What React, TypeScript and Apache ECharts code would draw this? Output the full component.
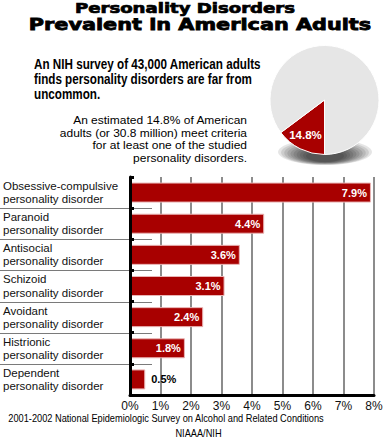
import React, { useEffect, useRef } from 'react';
import * as echarts from 'echarts';

const titleLines = ['Personality Disorders', 'Prevalent in American Adults'];
const introLines = [
  'An NIH survey of 43,000 American adults',
  'finds personality disorders are far from',
  'uncommon.',
];
const detailLines = [
  'An estimated 14.8% of American',
  'adults (or 30.8 million) meet criteria',
  'for at least one of the studied',
  'personality disorders.',
];
const sourceLine = '2001-2002 National Epidemiologic Survey on Alcohol and Related Conditions';
const creditLine = 'NIAAA/NIH';

const categories = [
  'Obsessive-compulsive\npersonality disorder',
  'Paranoid\npersonality disorder',
  'Antisocial\npersonality disorder',
  'Schizoid\npersonality disorder',
  'Avoidant\npersonality disorder',
  'Histrionic\npersonality disorder',
  'Dependent\npersonality disorder',
];
const prevalence = [7.9, 4.4, 3.6, 3.1, 2.4, 1.8, 0.5];

const axisMin = 0;
const axisMax = 8;
const axisStep = 1;

const pieNames = ['At least one personality disorder', 'No personality disorder'];
const pieValues = [14.8, 85.2];

const RED = '#A80000';
const GRAY = '#E6E6E6';
const FONT = 'Liberation Sans';

export default function App() {
  const ref = useRef<HTMLDivElement>(null);

  useEffect(() => {
    if (!ref.current) return;
    const chart = echarts.init(ref.current, undefined, { renderer: 'svg' });

    const txt = (o: any) => ({
      type: 'text',
      silent: true,
      ...o,
      style: {
        fill: '#000',
        fontFamily: FONT,
        ...o.style,
        textAlign: o.style.align,
        textVerticalAlign: o.style.verticalAlign,
      },
    });

    const barData = prevalence.map((v) =>
      v < 1
        ? { value: v, label: { position: 'right', color: '#000', distance: 6 } }
        : { value: v }
    );

    const separatorData = categories.slice(1).map((_, i) => [0, i + 1]);

    // soft drop shadow under the pie, built from stacked translucent ellipses
    const shadowLayers = 10;
    const shadowEllipses = Array.from({ length: shadowLayers }, (_, i) => {
      const t = i / (shadowLayers - 1);
      return {
        type: 'ellipse',
        silent: true,
        z: 0,
        shape: { cx: 325, cy: 152 + 4 * t, rx: 47 - 28 * t, ry: 13 - 7 * t },
        style: { fill: 'rgba(0,0,0,0.1)' },
      };
    });

    const option: any = {
      animation: false,
      backgroundColor: '#fff',
      grid: { left: 128, right: 12, top: 177, bottom: 49 },
      xAxis: {
        type: 'value',
        min: axisMin,
        max: axisMax,
        interval: axisStep,
        axisLine: { show: true, lineStyle: { color: '#000', width: 3 } },
        axisTick: { show: false },
        splitLine: { show: true, lineStyle: { color: '#666', width: 1.5 } },
        axisLabel: {
          formatter: '{value}%',
          color: '#111',
          fontFamily: FONT,
          fontSize: 12,
          margin: 5,
        },
      },
      yAxis: {
        type: 'category',
        inverse: true,
        data: categories,
        z: 5,
        axisLine: { show: true, lineStyle: { color: '#000', width: 3 } },
        axisTick: { show: true, inside: true, length: 4, lineStyle: { color: '#000', width: 3 } },
        axisLabel: {
          align: 'left',
          margin: 127,
          color: '#111',
          fontFamily: FONT,
          fontSize: 11.5,
          lineHeight: 13.3,
        },
      },
      series: [
        {
          type: 'custom',
          silent: true,
          z: 1,
          encode: { x: 0, y: 1 },
          data: separatorData,
          renderItem: (params: any, api: any) => {
            const c = api.coord([0, api.value(1)]);
            const band = api.size([0, 1])[1];
            const y = Math.round(c[1] - band / 2) + 0.5;
            return {
              type: 'line',
              shape: { x1: 0, y1: y, x2: params.coordSys.x + 22, y2: y },
              style: { stroke: '#7a7a7a', lineWidth: 1 },
            };
          },
        },
        {
          type: 'bar',
          barWidth: 20,
          z: 3,
          silent: true,
          data: barData,
          itemStyle: { color: RED, borderColor: '#E9B4B4', borderWidth: 1 },
          label: {
            show: true,
            position: 'insideRight',
            distance: 4,
            formatter: '{c}%',
            color: '#fff',
            fontFamily: FONT,
            fontWeight: 'bold',
            fontSize: 11,
          },
        },
        {
          type: 'pie',
          silent: true,
          z: 2,
          center: [324.5, 100],
          radius: 54.5,
          startAngle: 270,
          clockwise: true,
          labelLine: { show: false },
          itemStyle: { borderColor: '#fff', borderWidth: 1 },
          data: [
            {
              value: pieValues[0],
              name: pieNames[0],
              itemStyle: { color: RED },
              label: {
                show: true,
                position: 'inside',
                formatter: '{v|{c}%}',
                padding: [16, 11, 0, 0],
                rich: {
                  v: {
                    color: '#fff',
                    fontFamily: FONT,
                    fontWeight: 'bold',
                    fontSize: 11.5,
                  },
                },
              },
            },
            {
              value: pieValues[1],
              name: pieNames[1],
              itemStyle: { color: GRAY },
              label: { show: false },
            },
          ],
        },
      ],
      graphic: [
        ...shadowEllipses,
        txt({
          x: 185,
          y: 8,
          scaleX: 1.34,
          style: {
            text: titleLines[0],
            fontFamily: 'DejaVu Sans',
            fontWeight: 'bold',
            fontSize: 13.5,
            stroke: '#000',
            lineWidth: 0.7,
            align: 'center',
            verticalAlign: 'middle',
          },
        }),
        txt({
          x: 200,
          y: 24,
          scaleX: 1.3,
          style: {
            text: titleLines[1],
            fontFamily: 'DejaVu Sans',
            fontWeight: 'bold',
            fontSize: 16,
            stroke: '#000',
            lineWidth: 0.8,
            align: 'center',
            verticalAlign: 'middle',
          },
        }),
        txt({
          x: 34,
          y: 56.8,
          scaleX: 0.835,
          style: {
            text: introLines.join('\n'),
            fontWeight: 'bold',
            fontSize: 14,
            lineHeight: 15,
            align: 'left',
            verticalAlign: 'top',
          },
        }),
        txt({
          x: 247,
          y: 113.8,
          scaleX: 1.09,
          style: {
            text: detailLines.join('\n'),
            fontSize: 11,
            lineHeight: 12.6,
            align: 'right',
            verticalAlign: 'top',
          },
        }),
        txt({
          x: 166,
          y: 418.7,
          scaleX: 0.88,
          style: {
            text: sourceLine,
            fontSize: 10.5,
            align: 'center',
            verticalAlign: 'middle',
          },
        }),
        txt({
          x: 198.5,
          y: 433,
          scaleX: 0.88,
          style: {
            text: creditLine,
            fontSize: 10.5,
            align: 'center',
            verticalAlign: 'middle',
          },
        }),
      ],
    };

    chart.setOption(option);
    return () => chart.dispose();
  }, []);

  return (
    <div
      ref={ref}
      style={{ position: 'fixed', left: 0, top: 0, width: 386, height: 444, background: '#fff' }}
    />
  );
}
